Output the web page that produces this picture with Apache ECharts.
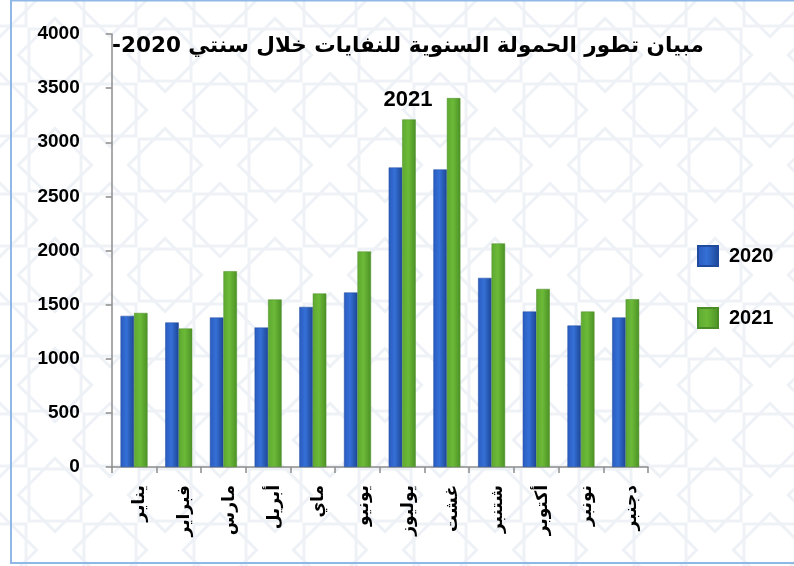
<!DOCTYPE html>
<html>
<head>
<meta charset="utf-8">
<script src="https://cdn.jsdelivr.net/npm/echarts@6/dist/echarts.min.js"></script>
<style>
  html, body { margin: 0; padding: 0; background: #fff; }
  #chart { width: 794px; height: 566px; }
</style>
</head>
<body>
<div id="chart"></div>
<script>
var months = ['يناير', 'فبراير', 'مارس', 'أبريل', 'ماي', 'يونيو', 'يوليوز', 'غشت', 'شتنبر', 'أكتوبر', 'نونبر', 'دجنبر'];
var seriesNames = ['2020', '2021'];
var values2020 = [1396, 1335, 1381, 1288, 1479, 1612, 2767, 2749, 1747, 1436, 1307, 1381];
var values2021 = [1423, 1279, 1809, 1547, 1603, 1991, 3211, 3408, 2065, 1645, 1436, 1550];
var titleLine1 = 'مبيان تطور الحمولة السنوية للنفايات خلال سنتي 2020-';
var titleLine2 = '2021';

// faint geometric background tile
function makePattern() {
  var c = document.createElement('canvas');
  c.width = 110;
  c.height = 110;
  var ctx = c.getContext('2d');
  ctx.fillStyle = '#ffffff';
  ctx.fillRect(0, 0, 110, 110);
  ctx.strokeStyle = '#eef2f6';
  ctx.lineWidth = 3;
  function star(cx, cy, r) {
    ctx.strokeRect(cx - r, cy - r, 2 * r, 2 * r);
    ctx.beginPath();
    ctx.moveTo(cx, cy - r * 1.41);
    ctx.lineTo(cx + r * 1.41, cy);
    ctx.lineTo(cx, cy + r * 1.41);
    ctx.lineTo(cx - r * 1.41, cy);
    ctx.closePath();
    ctx.stroke();
  }
  star(55, 55, 26);
  star(0, 0, 26);
  star(110, 0, 26);
  star(0, 110, 26);
  star(110, 110, 26);
  return c;
}

var blueGrad = new echarts.graphic.LinearGradient(0, 0, 1, 0, [
  { offset: 0, color: '#2a5bbf' },
  { offset: 0.45, color: '#3570d6' },
  { offset: 1, color: '#1c4594' }
]);
var greenGrad = new echarts.graphic.LinearGradient(0, 0, 1, 0, [
  { offset: 0, color: '#5ea831' },
  { offset: 0.45, color: '#6cba38' },
  { offset: 1, color: '#4c9126' }
]);

var labelFont = 'Liberation Sans';
var arabicFont = 'DejaVu Sans';

var chart = echarts.init(document.getElementById('chart'));
var option = {
  backgroundColor: { image: makePattern(), repeat: 'repeat' },
  animation: false,
  grid: {
    left: 111.7,
    right: 146,
    top: 34,
    bottom: 99
  },
  legend: {
    orient: 'vertical',
    left: 692,
    top: 240,
    itemWidth: 20,
    itemHeight: 20,
    itemGap: 40,
    icon: 'rect',
    data: seriesNames,
    textStyle: {
      color: '#000',
      fontSize: 20,
      fontWeight: 'bold',
      fontFamily: labelFont,
      padding: [0, 0, 0, 6]
    }
  },
  xAxis: {
    type: 'category',
    data: months,
    axisLine: { lineStyle: { color: '#8c8c8c', width: 1.5 } },
    axisTick: { show: true, length: 6, lineStyle: { color: '#8c8c8c', width: 1.5 } },
    axisLabel: {
      interval: 0,
      rotate: 90,
      margin: 18,
      verticalAlign: 'top',
      lineHeight: 12,
      color: '#000',
      fontSize: 17,
      fontWeight: 'bold',
      fontFamily: arabicFont
    }
  },
  yAxis: {
    type: 'value',
    min: 0,
    max: 4000,
    interval: 500,
    splitLine: { show: false },
    axisLine: { show: true, lineStyle: { color: '#8c8c8c', width: 1.5 } },
    axisTick: { show: true, length: 6, lineStyle: { color: '#8c8c8c', width: 1.5 } },
    axisLabel: {
      margin: 32,
      color: '#000',
      fontSize: 19,
      fontWeight: 'bold',
      fontFamily: labelFont,
      formatter: function (v) { return String(v); }
    }
  },
  graphic: [
    {
      type: 'rect',
      silent: true,
      shape: { x: 11, y: 0.5, width: 800, height: 562.5 },
      style: { fill: 'none', stroke: '#8fb8e6', lineWidth: 2 }
    },
    {
      type: 'text',
      x: 408,
      y: 46,
      style: {
        text: '\u202B' + titleLine1 + '\u202C',
        textAlign: 'center',
        textVerticalAlign: 'middle',
        fill: '#000',
        font: 'bold 21.5px "' + arabicFont + '"'
      }
    },
    {
      type: 'text',
      x: 408,
      y: 100,
      style: {
        text: titleLine2,
        textAlign: 'center',
        textVerticalAlign: 'middle',
        fill: '#000',
        font: 'bold 22px "' + labelFont + '"'
      }
    }
  ],
  series: [
    {
      name: seriesNames[0],
      type: 'bar',
      data: values2020,
      barWidth: 13.5,
      barGap: '0%',
      itemStyle: { color: blueGrad, borderColor: '#1f4a9e', borderWidth: 0.5 }
    },
    {
      name: seriesNames[1],
      type: 'bar',
      data: values2021,
      barWidth: 13.5,
      barGap: '0%',
      itemStyle: { color: greenGrad, borderColor: '#4a8c26', borderWidth: 0.5 }
    }
  ]
};
chart.setOption(option);
</script>
</body>
</html>
